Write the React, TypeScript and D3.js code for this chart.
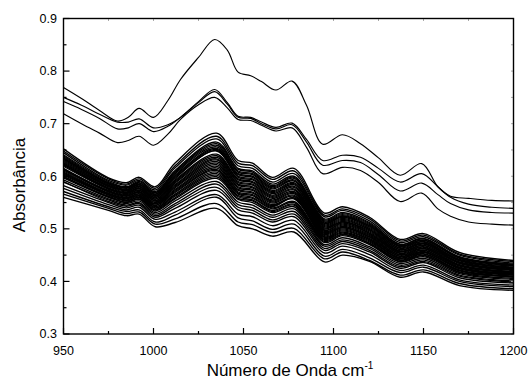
import React from 'react';
import * as d3 from 'd3';

// Wavenumber grid (cm^-1) at which the dense bundle of spectra was read
const bundleWavenumbers = [950, 975, 985, 992, 1001, 1012, 1035, 1047, 1055, 1066, 1078, 1095, 1105, 1120, 1137, 1150, 1170, 1200];

// Absorbance of each spectrum in the dense bundle
const bundleSpectra: number[][] = [
  [0.652, 0.597, 0.588, 0.598, 0.580, 0.625, 0.682, 0.630, 0.625, 0.598, 0.615, 0.530, 0.542, 0.522, 0.480, 0.491, 0.455, 0.440],
  [0.648, 0.595, 0.585, 0.595, 0.577, 0.620, 0.676, 0.625, 0.620, 0.594, 0.610, 0.526, 0.538, 0.519, 0.477, 0.488, 0.452, 0.438],
  [0.645, 0.592, 0.583, 0.592, 0.574, 0.616, 0.671, 0.620, 0.615, 0.589, 0.605, 0.523, 0.535, 0.515, 0.474, 0.485, 0.450, 0.435],
  [0.641, 0.590, 0.580, 0.590, 0.571, 0.611, 0.665, 0.615, 0.610, 0.585, 0.600, 0.519, 0.531, 0.512, 0.471, 0.482, 0.447, 0.433],
  [0.639, 0.588, 0.579, 0.588, 0.569, 0.609, 0.662, 0.613, 0.608, 0.582, 0.598, 0.517, 0.529, 0.510, 0.470, 0.481, 0.446, 0.432],
  [0.637, 0.587, 0.578, 0.587, 0.568, 0.607, 0.659, 0.610, 0.605, 0.580, 0.596, 0.515, 0.527, 0.508, 0.468, 0.479, 0.445, 0.431],
  [0.635, 0.586, 0.577, 0.585, 0.566, 0.605, 0.656, 0.608, 0.603, 0.578, 0.593, 0.513, 0.525, 0.506, 0.467, 0.478, 0.444, 0.430],
  [0.634, 0.585, 0.575, 0.584, 0.565, 0.602, 0.653, 0.605, 0.600, 0.576, 0.591, 0.511, 0.524, 0.505, 0.466, 0.476, 0.442, 0.429],
  [0.632, 0.583, 0.574, 0.583, 0.563, 0.600, 0.651, 0.603, 0.598, 0.573, 0.588, 0.510, 0.522, 0.503, 0.464, 0.475, 0.441, 0.427],
  [0.630, 0.582, 0.573, 0.581, 0.562, 0.598, 0.648, 0.600, 0.595, 0.571, 0.586, 0.508, 0.520, 0.501, 0.463, 0.473, 0.440, 0.426],
  [0.628, 0.581, 0.572, 0.580, 0.560, 0.596, 0.649, 0.598, 0.593, 0.569, 0.584, 0.506, 0.518, 0.499, 0.461, 0.472, 0.439, 0.425],
  [0.626, 0.580, 0.570, 0.578, 0.559, 0.593, 0.642, 0.595, 0.590, 0.567, 0.581, 0.504, 0.516, 0.498, 0.460, 0.471, 0.437, 0.424],
  [0.624, 0.578, 0.569, 0.577, 0.557, 0.591, 0.639, 0.593, 0.588, 0.564, 0.579, 0.502, 0.514, 0.496, 0.458, 0.469, 0.436, 0.423],
  [0.623, 0.577, 0.568, 0.576, 0.556, 0.589, 0.636, 0.590, 0.585, 0.562, 0.576, 0.500, 0.513, 0.494, 0.457, 0.468, 0.435, 0.422],
  [0.621, 0.576, 0.567, 0.574, 0.554, 0.587, 0.633, 0.588, 0.583, 0.560, 0.574, 0.498, 0.511, 0.492, 0.456, 0.466, 0.434, 0.421],
  [0.619, 0.575, 0.565, 0.573, 0.553, 0.584, 0.631, 0.585, 0.580, 0.558, 0.571, 0.497, 0.509, 0.491, 0.454, 0.465, 0.432, 0.419],
  [0.613, 0.573, 0.564, 0.571, 0.551, 0.582, 0.628, 0.583, 0.578, 0.555, 0.569, 0.495, 0.507, 0.489, 0.453, 0.463, 0.431, 0.418],
  [0.615, 0.572, 0.563, 0.570, 0.550, 0.580, 0.625, 0.580, 0.575, 0.553, 0.567, 0.493, 0.505, 0.487, 0.451, 0.462, 0.430, 0.417],
  [0.613, 0.571, 0.562, 0.569, 0.548, 0.578, 0.622, 0.578, 0.573, 0.551, 0.564, 0.491, 0.503, 0.485, 0.450, 0.460, 0.429, 0.416],
  [0.612, 0.570, 0.560, 0.567, 0.547, 0.575, 0.619, 0.575, 0.570, 0.549, 0.562, 0.489, 0.502, 0.484, 0.448, 0.459, 0.427, 0.415],
  [0.610, 0.568, 0.559, 0.566, 0.545, 0.573, 0.616, 0.573, 0.568, 0.546, 0.559, 0.487, 0.500, 0.482, 0.447, 0.457, 0.426, 0.414],
  [0.608, 0.567, 0.558, 0.564, 0.544, 0.571, 0.613, 0.570, 0.565, 0.544, 0.557, 0.485, 0.498, 0.480, 0.445, 0.456, 0.425, 0.413],
  [0.606, 0.566, 0.557, 0.563, 0.542, 0.569, 0.611, 0.568, 0.563, 0.542, 0.559, 0.484, 0.496, 0.479, 0.444, 0.455, 0.424, 0.412],
  [0.604, 0.565, 0.555, 0.562, 0.540, 0.566, 0.608, 0.566, 0.560, 0.540, 0.552, 0.482, 0.494, 0.477, 0.443, 0.453, 0.422, 0.410],
  [0.602, 0.564, 0.554, 0.560, 0.539, 0.564, 0.605, 0.563, 0.558, 0.538, 0.550, 0.480, 0.492, 0.475, 0.441, 0.452, 0.421, 0.409],
  [0.600, 0.562, 0.553, 0.559, 0.537, 0.562, 0.602, 0.561, 0.555, 0.535, 0.547, 0.478, 0.490, 0.473, 0.440, 0.450, 0.420, 0.408],
  [0.599, 0.561, 0.551, 0.557, 0.536, 0.559, 0.599, 0.558, 0.553, 0.533, 0.545, 0.476, 0.489, 0.472, 0.438, 0.449, 0.418, 0.410],
  [0.597, 0.560, 0.550, 0.556, 0.534, 0.557, 0.596, 0.556, 0.550, 0.531, 0.542, 0.474, 0.487, 0.470, 0.437, 0.447, 0.417, 0.406],
  [0.593, 0.557, 0.548, 0.553, 0.531, 0.553, 0.590, 0.551, 0.545, 0.526, 0.538, 0.470, 0.483, 0.466, 0.434, 0.444, 0.415, 0.404],
  [0.589, 0.555, 0.545, 0.550, 0.528, 0.548, 0.585, 0.546, 0.540, 0.522, 0.533, 0.467, 0.479, 0.463, 0.431, 0.441, 0.412, 0.401],
  [0.590, 0.552, 0.543, 0.548, 0.525, 0.544, 0.579, 0.541, 0.535, 0.517, 0.528, 0.463, 0.476, 0.459, 0.428, 0.438, 0.410, 0.399],
  [0.582, 0.550, 0.540, 0.545, 0.522, 0.539, 0.573, 0.536, 0.530, 0.513, 0.523, 0.459, 0.472, 0.456, 0.425, 0.436, 0.407, 0.397],
  [0.577, 0.546, 0.536, 0.541, 0.518, 0.532, 0.565, 0.528, 0.523, 0.506, 0.516, 0.454, 0.467, 0.451, 0.421, 0.431, 0.403, 0.393],
  [0.571, 0.542, 0.533, 0.536, 0.513, 0.526, 0.560, 0.521, 0.515, 0.499, 0.509, 0.448, 0.461, 0.445, 0.417, 0.427, 0.400, 0.390],
  [0.566, 0.539, 0.529, 0.532, 0.509, 0.519, 0.548, 0.513, 0.508, 0.493, 0.501, 0.443, 0.456, 0.440, 0.412, 0.422, 0.396, 0.386],
  [0.560, 0.535, 0.525, 0.528, 0.504, 0.512, 0.539, 0.506, 0.500, 0.486, 0.494, 0.437, 0.450, 0.438, 0.408, 0.418, 0.392, 0.383],
];

// Wavenumber grid for the four high-absorbance spectra
const outlierWavenumbers = [950, 960, 970, 980, 986, 992, 1000, 1008, 1015, 1025, 1034, 1041, 1047, 1054, 1060, 1068, 1077, 1085, 1094, 1105, 1115, 1125, 1137, 1149, 1158, 1165, 1175, 1188, 1200];

const outlierSpectrum1 = [0.769, 0.748, 0.725, 0.705, 0.712, 0.729, 0.712, 0.744, 0.784, 0.826, 0.860, 0.840, 0.798, 0.791, 0.780, 0.764, 0.781, 0.735, 0.661, 0.679, 0.662, 0.635, 0.602, 0.624, 0.580, 0.562, 0.558, 0.554, 0.553];
const outlierSpectrum2 = [0.750, 0.735, 0.718, 0.703, 0.703, 0.709, 0.692, 0.698, 0.712, 0.742, 0.765, 0.740, 0.714, 0.712, 0.703, 0.693, 0.701, 0.670, 0.630, 0.640, 0.636, 0.615, 0.589, 0.605, 0.580, 0.560, 0.547, 0.541, 0.539];
const outlierSpectrum3 = [0.742, 0.727, 0.710, 0.690, 0.692, 0.700, 0.685, 0.695, 0.712, 0.740, 0.761, 0.737, 0.712, 0.710, 0.700, 0.690, 0.698, 0.665, 0.621, 0.630, 0.626, 0.603, 0.572, 0.587, 0.565, 0.548, 0.536, 0.531, 0.530];
const outlierSpectrum4 = [0.719, 0.700, 0.682, 0.664, 0.668, 0.676, 0.659, 0.680, 0.708, 0.736, 0.750, 0.730, 0.708, 0.706, 0.697, 0.686, 0.692, 0.655, 0.605, 0.617, 0.611, 0.588, 0.552, 0.568, 0.538, 0.524, 0.513, 0.509, 0.507];

const xMajorTicks = [950, 1000, 1050, 1100, 1150, 1200];
const xMinorTicks = [975, 1025, 1075, 1125, 1175];
const yMajorTicks = [0.3, 0.4, 0.5, 0.6, 0.7, 0.8, 0.9];
const yMinorTicks = [0.35, 0.45, 0.55, 0.65, 0.75, 0.85];

const xTitle = 'Número de Onda cm';
const xTitleSup = '-1';
const yTitle = 'Absorbância';

export default function App() {
  const W = 529;
  const H = 385;
  const left = 63.5, right = 513.5, top = 18.5, bottom = 334;
  const x = d3.scaleLinear().domain([950, 1200]).range([left, right]);
  const y = d3.scaleLinear().domain([0.3, 0.9]).range([bottom, top]);
  const font = "'Liberation Sans', Arial, Helvetica, sans-serif";

  const makeLine = (grid: number[]) =>
    d3
      .line<number>()
      .x((_, i) => x(grid[i]))
      .y((d) => y(d))
      .curve(d3.curveCatmullRom.alpha(0.5));

  const bundleLine = makeLine(bundleWavenumbers);
  const outlierLine = makeLine(outlierWavenumbers);
  const outliers = [outlierSpectrum1, outlierSpectrum2, outlierSpectrum3, outlierSpectrum4];

  const allXTicks = [...xMajorTicks, ...xMinorTicks];
  const allYTicks = [...yMajorTicks, ...yMinorTicks];

  return (
    <svg
      width={W}
      height={H}
      style={{ position: 'absolute', left: 0, top: 0, background: '#fff' }}
      fontFamily={font}
    >
      <rect x={0} y={0} width={W} height={H} fill="#fff" />
      <g fill="none" stroke="#000" strokeWidth={1.35} strokeLinejoin="round">
        {bundleSpectra.map((s, i) => (
          <path key={'b' + i} d={bundleLine(s) || ''} />
        ))}
      </g>
      <g fill="none" stroke="#000" strokeWidth={1.15} strokeLinejoin="round">
        {outliers.map((s, i) => (
          <path key={'o' + i} d={outlierLine(s) || ''} />
        ))}
      </g>

      {/* top and right faint ticks */}
      <g stroke="#aaa" strokeWidth={1}>
        {allXTicks.map((t) => (
          <line key={'tt' + t} x1={x(t)} x2={x(t)} y1={top} y2={top + 2.5} />
        ))}
        {allYTicks.map((t) => (
          <line key={'rt' + t} x1={right} x2={right - 2.5} y1={y(t)} y2={y(t)} />
        ))}
      </g>

      {/* bottom and left ticks (inward) */}
      <g stroke="#000" strokeWidth={1.2}>
        {xMajorTicks.map((t) => (
          <line key={'xm' + t} x1={x(t)} x2={x(t)} y1={bottom} y2={bottom - 6} />
        ))}
        {xMinorTicks.map((t) => (
          <line key={'xn' + t} x1={x(t)} x2={x(t)} y1={bottom} y2={bottom - 3} />
        ))}
        {yMajorTicks.map((t) => (
          <line key={'ym' + t} x1={left} x2={left + 6} y1={y(t)} y2={y(t)} />
        ))}
        {yMinorTicks.map((t) => (
          <line key={'yn' + t} x1={left} x2={left + 3} y1={y(t)} y2={y(t)} />
        ))}
      </g>

      <rect x={left} y={top} width={right - left} height={bottom - top} fill="none" stroke="#000" strokeWidth={1.4} />

      <g fontSize={12.5} fill="#000">
        {xMajorTicks.map((t) => (
          <text key={'xl' + t} x={x(t)} y={355} textAnchor="middle">
            {d3.format('d')(t)}
          </text>
        ))}
        {yMajorTicks.map((t) => (
          <text key={'yl' + t} x={57} y={y(t)} dy="0.35em" textAnchor="end">
            {d3.format('.1f')(t)}
          </text>
        ))}
      </g>

      <text x={290} y={376} textAnchor="middle" fontSize={17} fill="#000">
        {xTitle}
        <tspan dy={-7} fontSize={10}>
          {xTitleSup}
        </tspan>
      </text>
      <text transform="translate(25,185) rotate(-90)" textAnchor="middle" fontSize={17} fill="#000">
        {yTitle}
      </text>
    </svg>
  );
}
